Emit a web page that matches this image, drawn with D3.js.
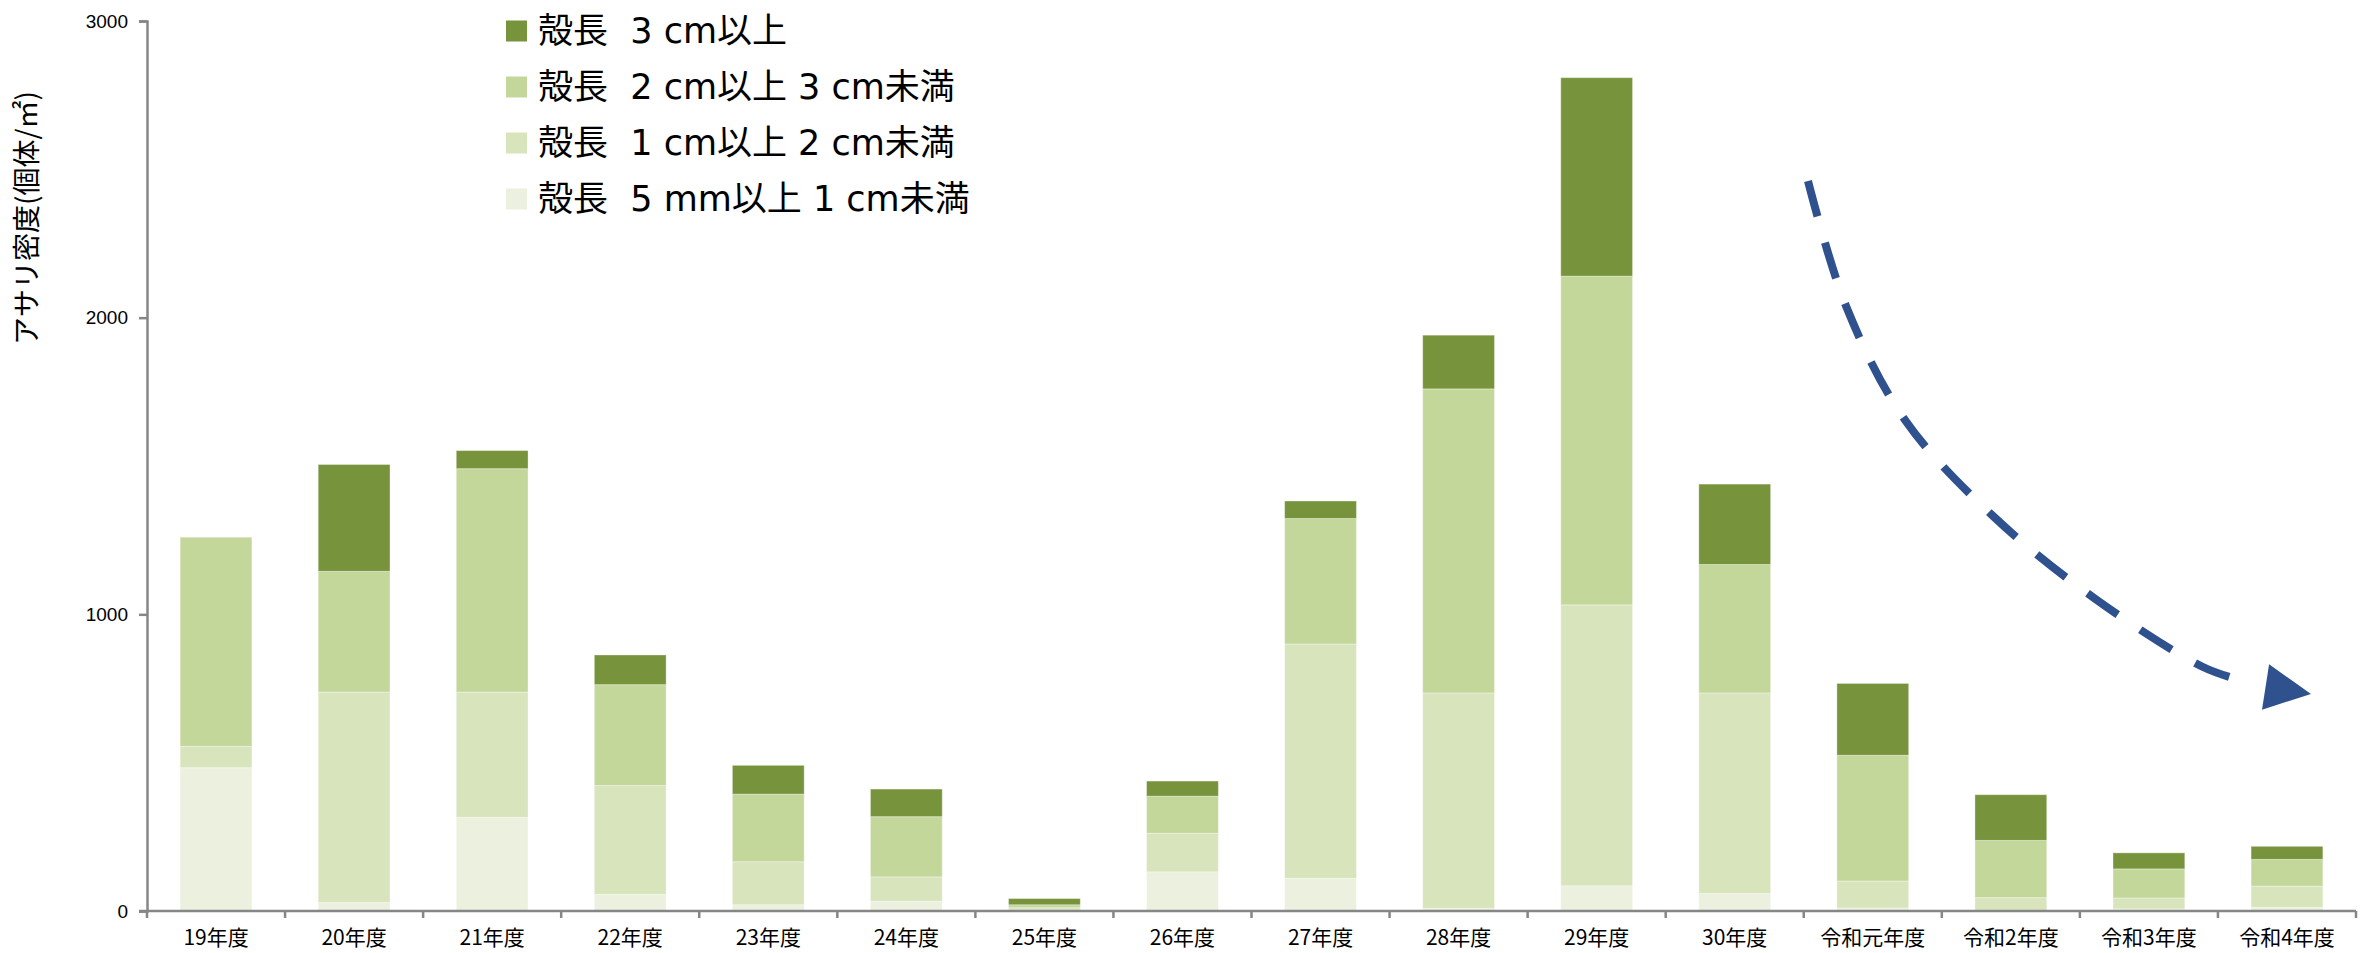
<!DOCTYPE html>
<html lang="ja">
<head>
<meta charset="utf-8">
<title>アサリ密度</title>
<script src="https://cdn.jsdelivr.net/npm/d3@7/dist/d3.min.js"></script>
<style>
  html, body { margin: 0; padding: 0; background: #ffffff; }
  svg { display: block; }
  .legend-label { white-space: pre; }
</style>
</head>
<body>
<svg id="chart" width="2367" height="953"></svg>
<script>
// Survey years
const categories = ["19年度", "20年度", "21年度", "22年度", "23年度", "24年度", "25年度", "26年度",
  "27年度", "28年度", "29年度", "30年度", "令和元年度", "令和2年度", "令和3年度", "令和4年度"];

// Clam density (individuals / m²) by shell length class
const size5mmTo1cm = [483, 29, 316, 56, 21, 33, 3, 132, 110, 9, 85, 59, 10, 0, 7, 12];
const size1cmTo2cm = [72, 709, 422, 367, 145, 82, 8, 130, 790, 726, 947, 676, 91, 45, 37, 72];
const size2cmTo3cm = [705, 407, 753, 340, 228, 203, 10, 125, 423, 1025, 1108, 433, 424, 193, 98, 90];
const size3cmOver  = [0, 360, 61, 100, 97, 93, 21, 51, 59, 181, 669, 271, 242, 154, 54, 44];

const seriesKeys   = ["s5mm", "s1cm", "s2cm", "s3cm"];
const seriesLabels = ["殻長  5 mm以上 1 cm未満", "殻長  1 cm以上 2 cm未満", "殻長  2 cm以上 3 cm未満", "殻長  3 cm以上"];
const seriesColors = ["#EBF1DE", "#D8E4BC", "#C4D79B", "#77933C"];

const yTicks = [0, 1000, 2000, 3000];
const yTitle = "アサリ密度(個体/㎡)";

// Trend arrow guide points
const trendPoints = [[1808, 181], [1846, 306], [1905, 420], [1993, 516], [2094, 598], [2203, 667], [2240, 680]];

const rows = categories.map((c, i) => ({
  cat: c,
  s5mm: size5mmTo1cm[i],
  s1cm: size1cmTo2cm[i],
  s2cm: size2cmTo3cm[i],
  s3cm: size3cmOver[i]
}));

const svg = d3.select("#chart");
const plot = { left: 147, right: 2356, top: 21, bottom: 911 };

const x = d3.scaleBand()
  .domain(categories)
  .range([plot.left, plot.right])
  .paddingInner(0.48)
  .paddingOuter(0.24);

const y = d3.scaleLinear()
  .domain([0, 3000])
  .range([plot.bottom, plot.top]);

const stacked = d3.stack().keys(seriesKeys)(rows);

// Stacked bars
svg.append("g")
  .selectAll("g")
  .data(stacked)
  .join("g")
  .attr("fill", (d, i) => seriesColors[i])
  .selectAll("rect")
  .data(d => d)
  .join("rect")
  .attr("x", d => x(d.data.cat))
  .attr("width", x.bandwidth())
  .attr("y", d => y(d[1]))
  .attr("height", d => Math.max(0, y(d[0]) - y(d[1])))
  .attr("stroke", "#ffffff")
  .attr("stroke-opacity", 0.35)
  .attr("stroke-width", 1);

const axisColor = "#868686";

// Y axis
const yAxis = svg.append("g")
  .attr("transform", `translate(${plot.left},0)`)
  .call(d3.axisLeft(y).tickValues(yTicks).tickSize(8).tickPadding(11).tickFormat(d3.format("d")));
yAxis.select(".domain").attr("stroke", axisColor).attr("stroke-width", 2.5);
yAxis.selectAll(".tick line").attr("stroke", axisColor).attr("stroke-width", 2.5);
yAxis.selectAll(".tick text")
  .attr("fill", "#000")
  .style("font-family", "'Liberation Sans', Arial, sans-serif")
  .style("font-size", "19px");

// X axis with ticks at category boundaries
const step = x.step();
const xAxisG = svg.append("g").attr("transform", `translate(0,${plot.bottom})`);
xAxisG.append("line")
  .attr("x1", plot.left - 8).attr("x2", plot.right)
  .attr("stroke", axisColor).attr("stroke-width", 2.5);
xAxisG.selectAll("line.tk")
  .data(d3.range(categories.length + 1))
  .join("line")
  .attr("class", "tk")
  .attr("x1", i => plot.left + i * step)
  .attr("x2", i => plot.left + i * step)
  .attr("y1", 0).attr("y2", 7)
  .attr("stroke", axisColor).attr("stroke-width", 2.5);
xAxisG.selectAll("text")
  .data(categories)
  .join("text")
  .attr("x", d => x(d) + x.bandwidth() / 2)
  .attr("y", 34)
  .attr("text-anchor", "middle")
  .style("font-family", "'Noto Sans CJK JP', sans-serif")
  .style("font-size", "21px")
  .attr("fill", "#000")
  .text(d => d);

// Y axis title
svg.append("text")
  .attr("transform", "translate(37,218) rotate(-90)")
  .attr("text-anchor", "middle")
  .style("font-family", "'Noto Sans CJK JP', sans-serif")
  .style("font-size", "28px")
  .attr("fill", "#000")
  .text(yTitle);

// Legend (top row is the largest size class)
const legendOrder = [3, 2, 1, 0];
const legend = svg.append("g");
legendOrder.forEach((si, r) => {
  const cy = 31 + r * 56;
  legend.append("rect")
    .attr("x", 506).attr("y", cy - 10.5)
    .attr("width", 21).attr("height", 21)
    .attr("fill", seriesColors[si]);
  legend.append("text")
    .attr("class", "legend-label")
    .attr("x", 538).attr("y", cy + 12)
    .style("font-family", "'DejaVu Sans', 'Noto Sans CJK JP', sans-serif")
    .style("font-size", "35px")
    .attr("fill", "#000")
    .text(seriesLabels[si]);
});

// Downward trend arrow
const arrowColor = "#2F528F";
const trendLine = d3.line().curve(d3.curveCatmullRom.alpha(0.5));
svg.append("path")
  .attr("d", trendLine(trendPoints))
  .attr("fill", "none")
  .attr("stroke", arrowColor)
  .attr("stroke-width", 8)
  .attr("stroke-dasharray", "37 27");

const tip = [2311, 694];
const dir = Math.atan2(694 - 687, 2311 - 2266);
const headLen = 46, headHalf = 23;
const bx = tip[0] - headLen * Math.cos(dir), by = tip[1] - headLen * Math.sin(dir);
const head = [
  tip,
  [bx + headHalf * Math.sin(dir), by - headHalf * Math.cos(dir)],
  [bx - headHalf * Math.sin(dir), by + headHalf * Math.cos(dir)]
];
svg.append("path")
  .attr("d", d3.line()(head) + "Z")
  .attr("fill", arrowColor);
</script>
</body>
</html>
